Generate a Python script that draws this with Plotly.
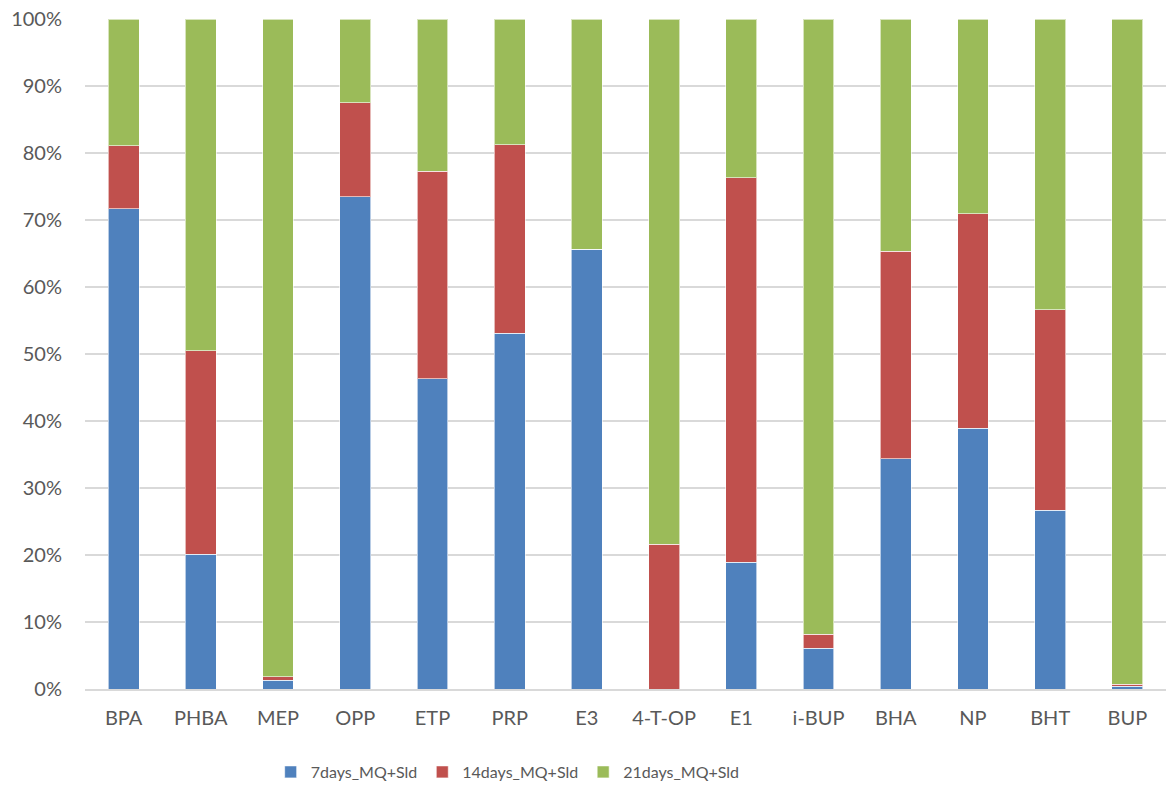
import plotly.graph_objects as go

compounds = ['BPA', 'PHBA', 'MEP', 'OPP', 'ETP', 'PRP', 'E3', '4-T-OP',
             'E1', 'i-BUP', 'BHA', 'NP', 'BHT', 'BUP']
days7 = [71.7, 20.1, 1.3, 73.5, 46.3, 53.1, 65.6, 0.0, 18.9, 6.1, 34.4, 38.9, 26.7, 0.4]
days14 = [9.4, 30.4, 0.5, 14.0, 31.0, 28.1, 0.0, 21.6, 57.4, 2.1, 30.9, 32.0, 29.9, 0.3]
days21 = [100 - a - b for a, b in zip(days7, days14)]
ytick_vals = [0, 10, 20, 30, 40, 50, 60, 70, 80, 90, 100]

series = [
    ('7days_MQ+Sld', days7, '#4F81BD'),
    ('14days_MQ+Sld', days14, '#C0504D'),
    ('21days_MQ+Sld', days21, '#9BBB59'),
]

fig = go.Figure()
for name, vals, color in series:
    fig.add_trace(go.Bar(
        x=compounds, y=vals, name=name,
        marker=dict(color=color, line=dict(color='rgba(255,255,255,0.6)', width=1)),
    ))

fig.update_layout(
    barmode='stack',
    bargap=0.6,
    width=1166, height=789,
    margin=dict(l=85, r=0, t=19, b=99),
    paper_bgcolor='white', plot_bgcolor='white',
    font=dict(family='Lato, Open Sans, sans-serif', size=20, color='#595959'),
    legend=dict(orientation='h', x=0.391, xanchor='center', y=-0.098, yanchor='top',
                font=dict(size=16, color='#595959'), itemwidth=30,
                traceorder='normal'),
)
fig.update_yaxes(range=[0, 100], tickvals=ytick_vals,
                 ticktext=[f'{v}%' for v in ytick_vals], gridcolor='#D9D9D9',
                 gridwidth=1.5, zeroline=False, ticks='', ticklabelstandoff=22,
                 automargin=False)
fig.update_xaxes(showline=True, linecolor='#D9D9D9', linewidth=1.5, ticks='',
                 ticklabelstandoff=10, automargin=False)

# drop the default 8px body margin so the figure fills the window
fig.write_html('out.html', config={'displayModeBar': False},
               post_script="document.body.style.margin='0px';")
